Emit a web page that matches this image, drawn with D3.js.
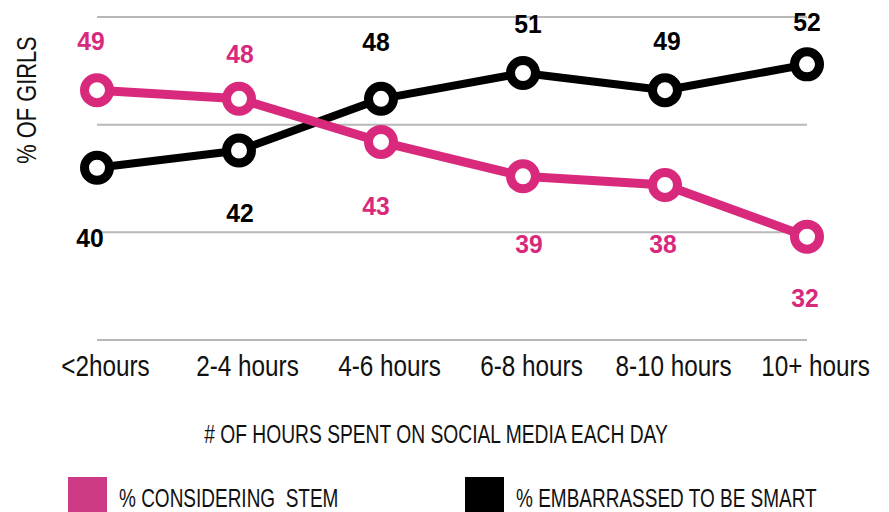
<!DOCTYPE html>
<html>
<head>
<meta charset="utf-8">
<script src="https://cdn.jsdelivr.net/npm/d3@7"></script>
<style>
  body { margin: 0; background: #fff; }
  svg text { font-family: "Liberation Sans", Arial, sans-serif; }
  .value-label { font-weight: bold; font-size: 26px; }
</style>
</head>
<body>
<div id="chart"></div>
<script>
// Chart data
const categories = ["<2hours", "2-4 hours", "4-6 hours", "6-8 hours", "8-10 hours", "10+ hours"];
const stemValues = [49, 48, 43, 39, 38, 32];
const embarrassedValues = [40, 42, 48, 51, 49, 52];
const gridValues = [20, 32.5, 45, 57.5];
const seriesNames = ["% CONSIDERING  STEM", "% EMBARRASSED TO BE SMART"];

// Label placement (dx, dy from the point), layout only
const stemLabelOffset = [[-6, -40], [1, -36], [-5, 73], [6, 77], [-2, 68], [-2, 70]];
const embLabelOffset = [[-7, 79], [1, 71], [-5, -48], [5, -40], [2, -40], [0, -33]];

const pink = "#d8297d";
const width = 889, height = 512;

const svg = d3.select("#chart")
    .append("svg")
    .attr("width", width)
    .attr("height", height);

// Scales
const x = d3.scalePoint()
    .domain(categories)
    .range([97, 807]);

const y = d3.scaleLinear()
    .domain([20, 57.5])
    .range([340, 17]);

// Grid lines
svg.append("g")
    .selectAll("line")
    .data(gridValues)
    .enter()
    .append("line")
    .attr("x1", x.range()[0])
    .attr("x2", x.range()[1])
    .attr("y1", d => y(d))
    .attr("y2", d => y(d))
    .attr("stroke", "#b8b8b8")
    .attr("stroke-width", 2);

// Category labels (squeezed a bit, the original uses a condensed face)
const xAxis = d3.axisBottom(x).tickSize(0).tickPadding(0);
const axisG = svg.append("g")
    .attr("transform", `translate(8,${y(20)})`)
    .call(xAxis);
axisG.select(".domain").remove();
axisG.selectAll("text")
    .attr("y", null)
    .attr("dy", null)
    .attr("transform", "translate(0,36) scale(0.81,1)")
    .style("font-size", "30px")
    .style("font-family", '"Liberation Sans", Arial, sans-serif')
    .attr("fill", "#111");

// Axis titles
svg.append("text")
    .attr("transform", "translate(436,443) scale(0.77,1)")
    .attr("text-anchor", "middle")
    .style("font-size", "25px")
    .attr("fill", "#111")
    .text("# OF HOURS SPENT ON SOCIAL MEDIA EACH DAY");

svg.append("text")
    .attr("transform", "translate(36,100) rotate(-90) scale(0.78,1)")
    .attr("text-anchor", "middle")
    .style("font-size", "28px")
    .attr("fill", "#111")
    .text("% OF GIRLS");

// Lines and markers
const line = d3.line()
    .x((d, i) => x(categories[i]))
    .y(d => y(d));

function drawSeries(values, color, lineWidth, offsets) {
    svg.append("path")
        .datum(values)
        .attr("fill", "none")
        .attr("stroke", color)
        .attr("stroke-width", lineWidth)
        .attr("stroke-linejoin", "round")
        .attr("d", line);

    svg.append("g")
        .selectAll("circle")
        .data(values)
        .enter()
        .append("circle")
        .attr("cx", (d, i) => x(categories[i]))
        .attr("cy", d => y(d))
        .attr("r", 12.5)
        .attr("fill", "#fff")
        .attr("stroke", color)
        .attr("stroke-width", 9);

    svg.append("g")
        .selectAll("text")
        .data(values)
        .enter()
        .append("text")
        .attr("class", "value-label")
        .attr("transform", (d, i) =>
            `translate(${x(categories[i]) + offsets[i][0]},${y(d) + offsets[i][1]}) scale(0.95,1)`)
        .attr("text-anchor", "middle")
        .attr("fill", color)
        .text(d => d);
}

drawSeries(embarrassedValues, "#000", 8, embLabelOffset);
drawSeries(stemValues, pink, 9, stemLabelOffset);

// Legend
const legend = svg.append("g");
const legendX = [68, 465];
const legendColors = ["#cd3a86", "#000"];
seriesNames.forEach((name, i) => {
    legend.append("rect")
        .attr("x", legendX[i])
        .attr("y", 477)
        .attr("width", 39)
        .attr("height", 40)
        .attr("fill", legendColors[i]);
    legend.append("text")
        .attr("transform", `translate(${legendX[i] + 51},507) scale(0.76,1)`)
        .style("font-size", "25px")
        .attr("fill", "#111")
        .style("white-space", "pre")
        .text(name);
});
</script>
</body>
</html>
